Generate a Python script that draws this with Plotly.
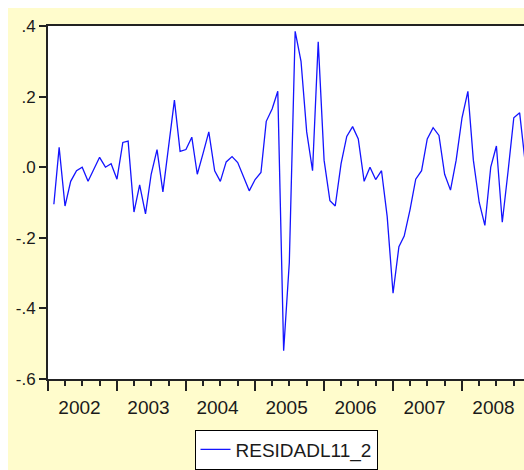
import pandas as pd
import plotly.graph_objects as go

series_name = "RESIDADL11_2"
start_month = "2002-02-01"
residuals = [
    -0.105, 0.056, -0.11, -0.04, -0.01, 0.0, -0.04, -0.005, 0.028, 0.0,
    0.01, -0.034, 0.07, 0.074, -0.127, -0.05, -0.132, -0.02, 0.05, -0.07,
    0.06, 0.19, 0.045, 0.05, 0.085, -0.02, 0.04, 0.1, -0.01, -0.04,
    0.015, 0.03, 0.013, -0.025, -0.067, -0.035, -0.015, 0.13, 0.165, 0.215,
    -0.52, -0.27, 0.385, 0.3, 0.1, -0.01, 0.355, 0.02, -0.095, -0.11,
    0.01, 0.087, 0.115, 0.08, -0.04, 0.0, -0.035, -0.01, -0.14, -0.357,
    -0.225, -0.195, -0.12, -0.034, -0.01, 0.08, 0.112, 0.09, -0.02, -0.065,
    0.02, 0.14, 0.215, 0.02, -0.1, -0.165, 0.0, 0.06, -0.156, -0.01,
    0.14, 0.154, 0.01,
]
y_tickvals = [-0.6, -0.4, -0.2, 0.0, 0.2, 0.4]
y_ticktext = ["-.6", "-.4", "-.2", ".0", ".2", ".4"]

dates = pd.date_range(start_month, periods=len(residuals), freq="MS")

W, H = 516, 462
L, R, T, B = 40, 0, 18, 88
ph = H - T - B

fig = go.Figure()
fig.add_trace(go.Scatter(
    x=dates, y=residuals, mode="lines", name=series_name,
    line=dict(color="#1414ff", width=1.3),
))

yellow = "#fffccc"
axis_col = "#222222"
fig.update_layout(
    width=W, height=H,
    margin=dict(l=L, r=R, t=T, b=B, pad=0),
    paper_bgcolor=yellow,
    plot_bgcolor="white",
    font=dict(family="Liberation Sans, Arial, sans-serif", color="#1a1a1a"),
    showlegend=True,
    legend=dict(
        orientation="h", x=0.5, xanchor="center",
        y=(H - B - 425) / ph, yanchor="top",
        bgcolor="white", bordercolor="black", borderwidth=1,
        font=dict(size=19, family="Liberation Sans, Arial, sans-serif"),
        itemwidth=30,
    ),
    xaxis=dict(
        type="date",
        range=["2002-01-01", "2008-11-24"],
        dtick="M12", tickformat="%Y", ticklabelmode="period",
        ticklabelshift=-3,
        ticks="outside", ticklen=10, tickwidth=1.5, tickcolor=axis_col,
        minor=dict(dtick="M3", ticks="outside", ticklen=5, tickwidth=1.5,
                   tickcolor=axis_col, showgrid=False),
        showgrid=False, zeroline=False,
        showline=True, linecolor=axis_col, linewidth=2, mirror=True,
        tickfont=dict(size=19),
    ),
    yaxis=dict(
        range=[-0.6, 0.4],
        tickvals=y_tickvals, ticktext=y_ticktext,
        ticks="outside", ticklen=7, tickwidth=1.5, tickcolor=axis_col,
        showgrid=False, zeroline=False,
        showline=True, linecolor=axis_col, linewidth=2,
        tickfont=dict(size=17),
    ),
)

fig.write_html(
    "out.html",
    post_script="document.body.style.margin='8px 0 0 8px';",
)
